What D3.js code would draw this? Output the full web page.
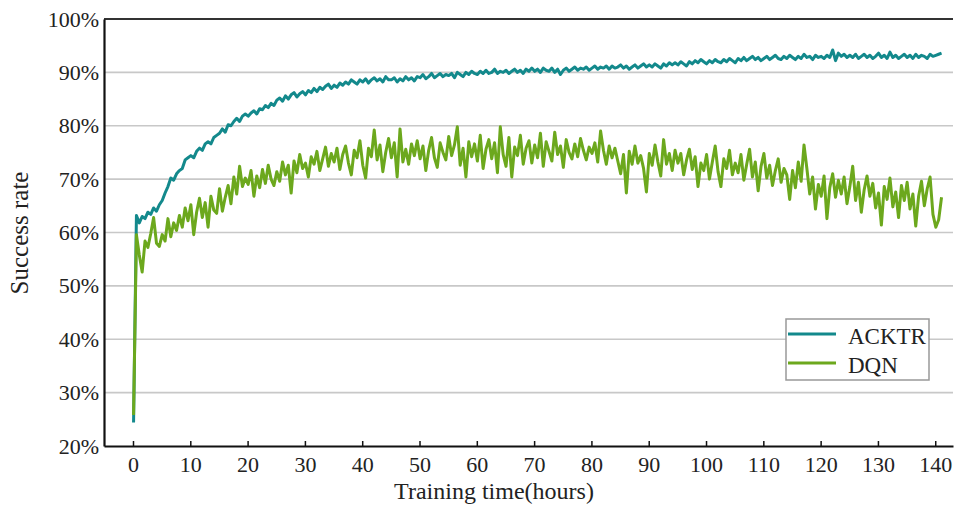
<!DOCTYPE html>
<html>
<head>
<meta charset="utf-8">
<title>Success rate vs training time</title>
<script src="https://d3js.org/d3.v7.min.js"></script>
<style>
  body { margin: 0; background: #fff; }
  svg { display: block; }
  .axis text { font-family: "Liberation Serif", "Times New Roman", serif; font-size: 22px; fill: #222; }
  .title { font-family: "Liberation Serif", "Times New Roman", serif; fill: #222; }
  .grid line { stroke: #c8c8c8; stroke-width: 1.6px; }
</style>
</head>
<body>
<svg width="955" height="506"></svg>
<script>

// time of first sample and spacing between samples (hours)
var startHour = 0.1,
    stepHours = 0.5;

var seriesNames = ["ACKTR", "DQN"];
var seriesColors = ["#13898c", "#6ca81d"];

var xTicks = [0, 10, 20, 30, 40, 50, 60, 70, 80, 90, 100, 110, 120, 130, 140];
var yTicks = [0.2, 0.3, 0.4, 0.5, 0.6, 0.7, 0.8, 0.9, 1.0];

// success rate in percent, one value every half hour
var acktr = [
  24.4, 63.2, 61.8, 63.0, 62.6, 63.8, 63.4, 64.6, 64.0, 65.2,
  66.0, 67.4, 68.6, 70.2, 69.8, 71.0, 71.6, 72.0, 73.6, 74.0,
  74.4, 74.0, 75.2, 75.8, 75.4, 76.6, 77.0, 76.6, 77.8, 78.2,
  78.6, 79.4, 78.8, 80.2, 80.0, 80.8, 81.4, 80.8, 81.8, 82.2,
  81.8, 82.4, 82.8, 82.2, 83.2, 83.0, 83.8, 83.4, 84.2, 83.8,
  84.8, 85.2, 84.6, 85.6, 85.0, 85.8, 86.2, 85.4, 86.0, 86.4,
  85.8, 86.6, 86.2, 87.0, 86.4, 87.2, 86.8, 87.4, 87.8, 87.0,
  87.6, 87.2, 88.0, 87.6, 88.2, 87.8, 88.6, 88.2, 87.8, 88.6,
  88.2, 88.8, 88.0, 88.6, 89.0, 88.4, 88.8, 88.2, 89.2, 88.6,
  88.6, 89.0, 88.2, 88.8, 88.4, 89.2, 88.6, 89.0, 88.4, 89.2,
  89.0, 89.6, 88.8, 89.2, 89.8, 89.0, 89.4, 89.8, 89.2, 89.6,
  89.4, 89.8, 89.0, 90.0, 89.6, 89.2, 90.0, 89.6, 90.2, 89.8,
  89.6, 90.2, 89.8, 90.4, 89.8, 90.0, 90.6, 89.8, 90.2, 90.0,
  90.4, 89.8, 90.2, 90.6, 90.0, 90.4, 89.8, 90.6, 90.2, 90.8,
  90.2, 90.6, 90.0, 90.8, 90.4, 90.2, 90.8, 90.0, 90.6, 89.6,
  90.4, 90.8, 90.2, 90.6, 91.0, 90.4, 90.8, 90.6, 91.0, 90.4,
  90.8, 91.2, 90.6, 91.0, 90.8, 91.2, 90.6, 91.2, 90.8, 91.0,
  91.4, 90.8, 91.2, 90.6, 91.0, 91.4, 90.8, 91.2, 91.6, 91.0,
  91.4, 91.0, 91.6, 91.2, 90.8, 91.6, 91.2, 91.8, 91.4, 91.8,
  91.4, 92.0, 91.6, 91.2, 92.0, 91.6, 92.2, 91.8, 92.4, 92.0,
  91.6, 92.2, 91.8, 92.4, 92.0, 91.8, 92.4, 92.0, 92.6, 92.2,
  91.8, 92.6, 92.2, 92.8, 92.2, 92.6, 93.0, 92.4, 92.8, 92.2,
  92.6, 93.0, 92.4, 92.8, 93.2, 92.6, 92.4, 93.0, 92.6, 93.2,
  92.8, 92.4, 93.0, 92.6, 93.4, 92.8, 93.0, 92.4, 93.2, 92.8,
  93.0, 92.6, 93.2, 92.8, 94.2, 92.2, 93.6, 93.0, 93.4, 92.8,
  93.2, 92.8, 93.4, 92.6, 93.0, 93.4, 92.8, 93.2, 92.6, 93.0,
  93.6, 92.8, 93.2, 92.6, 93.8, 92.8, 93.2, 92.6, 93.0, 93.4,
  92.8, 93.2, 92.6, 93.4, 92.8, 93.2, 93.0, 92.6, 93.4, 93.0,
  93.2, 93.4, 93.6
];

var dqn = [
  25.8, 59.6, 55.8, 52.6, 58.4, 57.2, 59.8, 62.8, 58.0, 57.4,
  59.6, 58.4, 62.6, 59.2, 61.8, 60.4, 63.2, 61.0, 64.6, 62.2,
  65.2, 59.6, 63.8, 66.4, 62.8, 65.6, 61.0, 66.8, 64.2, 63.6,
  68.2, 64.0, 66.6, 68.8, 65.4, 70.4, 67.2, 72.4, 68.6, 70.2,
  69.0, 71.6, 66.8, 70.6, 68.4, 71.8, 69.2, 72.6, 70.0, 68.8,
  71.4, 69.6, 73.2, 70.8, 72.6, 67.4, 73.4, 71.2, 74.6, 72.0,
  73.0, 70.4, 74.2, 72.8, 75.2, 71.6, 73.8, 76.0, 72.4, 74.8,
  73.2, 75.8, 71.8, 74.6, 76.2, 73.0, 70.8, 75.4, 74.0, 77.2,
  72.6, 70.2, 75.8, 74.2, 79.2, 73.6, 76.4, 71.4, 75.0, 77.6,
  74.0, 76.8, 70.4, 79.4, 73.2, 75.6, 72.8, 76.6, 74.4, 77.2,
  73.8, 76.2, 71.6, 75.4, 77.8, 74.0, 72.2, 76.8, 75.0, 73.6,
  78.0, 74.4, 76.4, 79.8, 72.6, 75.8, 70.4, 77.0, 74.2, 76.6,
  73.4, 78.2, 72.0, 75.6, 77.4, 73.8, 76.8, 71.2, 79.8, 74.6,
  72.4, 77.8, 70.4, 76.0, 74.4, 78.2, 72.8, 75.8, 77.2, 73.0,
  76.4, 74.0, 78.6, 72.4, 77.0, 75.2, 73.4, 78.8, 74.6, 76.2,
  72.2, 77.4, 75.0, 73.8, 76.6, 74.2, 77.6, 75.4, 73.6, 76.0,
  74.8, 76.8, 73.2, 79.0, 75.4, 72.8, 76.2, 74.0, 75.8, 73.4,
  71.0, 74.6, 67.4, 75.2, 72.8, 76.2, 73.0, 74.4, 72.0, 67.6,
  74.8, 72.6, 76.4, 73.2, 70.6, 77.4, 72.8, 74.8, 71.6, 75.4,
  73.0, 74.8, 70.8, 73.6, 75.6, 71.8, 74.2, 68.6, 73.0, 71.6,
  74.6, 70.0, 73.2, 76.2, 71.4, 68.6, 73.8, 72.0, 75.4, 70.8,
  73.0, 71.2, 74.6, 69.8, 72.8, 75.6, 70.4, 73.2, 67.8, 72.4,
  74.8, 70.2, 72.6, 68.8, 71.6, 73.8, 69.4, 72.0, 70.8, 66.2,
  71.6, 68.4, 73.2, 69.6, 76.4, 72.0, 67.2, 70.4, 64.4, 69.0,
  66.8, 70.6, 62.6, 68.4, 71.0, 66.6, 69.8, 67.2, 70.4, 65.4,
  68.6, 72.4, 66.0, 69.4, 63.8, 68.0, 70.6, 66.8, 69.2, 64.6,
  67.4, 61.4, 68.6, 66.2, 70.2, 64.8, 67.6, 62.8, 68.8, 66.0,
  69.4, 64.4, 67.2, 61.2, 66.8, 69.6, 65.0, 68.2, 70.4, 63.4,
  61.0, 62.4, 66.6
];

var svg = d3.select("svg"),
    plotLeft = 104, plotTop = 19, plotRight = 953, plotBottom = 446;

var x = d3.scaleLinear().domain([-5.06, 143.1]).range([plotLeft, plotRight]);
var y = d3.scaleLinear().domain([0.2, 1.0]).range([plotBottom, plotTop]);

var font = '"Liberation Serif", "Times New Roman", serif';

// horizontal grid
svg.append("g")
    .attr("class", "grid")
  .selectAll("line")
  .data(yTicks.slice(1, -1))
  .enter().append("line")
    .attr("x1", plotLeft)
    .attr("x2", plotRight)
    .attr("y1", function(d) { return y(d); })
    .attr("y2", function(d) { return y(d); });

// top frame line
svg.append("line")
    .attr("x1", plotLeft).attr("x2", plotRight)
    .attr("y1", plotTop).attr("y2", plotTop)
    .attr("stroke", "#333")
    .attr("stroke-width", 2);

// curves
var series = [acktr, dqn];
var line = d3.line()
    .x(function(d, i) { return x(startHour + i * stepHours); })
    .y(function(d) { return y(d / 100); });

series.forEach(function(vals, k) {
  svg.append("path")
      .datum(vals)
      .attr("fill", "none")
      .attr("stroke", seriesColors[k])
      .attr("stroke-width", 3)
      .attr("stroke-linejoin", "round")
      .attr("d", line);
});

// axes
var xAxis = svg.append("g")
    .attr("class", "axis")
    .attr("transform", "translate(0," + plotBottom + ")")
    .call(d3.axisBottom(x).tickValues(xTicks).tickSizeInner(-5).tickSizeOuter(0).tickPadding(10));
xAxis.select(".domain").attr("stroke", "#111").attr("stroke-width", 2.2);
xAxis.selectAll(".tick line").attr("stroke", "#111").attr("stroke-width", 1.5);

var yAxis = svg.append("g")
    .attr("class", "axis")
    .attr("transform", "translate(" + plotLeft + ",0)")
    .call(d3.axisLeft(y).tickValues(yTicks).tickFormat(d3.format(".0%")).tickSize(0).tickPadding(5));
yAxis.select(".domain").attr("stroke", "#111").attr("stroke-width", 2.2);

// axis titles
svg.append("text")
    .attr("class", "title")
    .attr("x", 494)
    .attr("y", 499)
    .attr("text-anchor", "middle")
    .style("font-size", "24px")
    .text("Training time(hours)");

svg.append("text")
    .attr("class", "title")
    .attr("transform", "translate(28,233) rotate(-90)")
    .attr("text-anchor", "middle")
    .style("font-size", "25px")
    .text("Success rate");

// legend
var legend = svg.append("g").attr("transform", "translate(786,319)");
legend.append("rect")
    .attr("width", 143)
    .attr("height", 61)
    .attr("fill", "#fff")
    .attr("stroke", "#999")
    .attr("stroke-width", 1.5);

seriesNames.forEach(function(name, k) {
  var ly = 15 + k * 29;
  legend.append("line")
      .attr("x1", 2).attr("x2", 50)
      .attr("y1", ly).attr("y2", ly)
      .attr("stroke", seriesColors[k])
      .attr("stroke-width", 3);
  legend.append("text")
      .attr("x", 62)
      .attr("y", ly + 10)
      .style("font-family", font)
      .style("font-size", "23px")
      .attr("fill", "#222")
      .text(name);
});

</script>
</body>
</html>
